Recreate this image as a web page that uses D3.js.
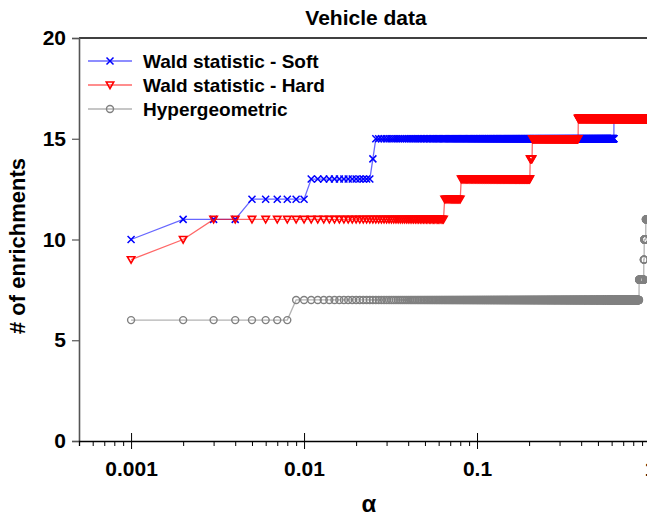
<!DOCTYPE html>
<html><head><meta charset="utf-8">
<script src="https://cdn.jsdelivr.net/npm/d3@7"></script>
<style>body{margin:0;background:#fff}svg{display:block}text{font-family:"Liberation Sans",Arial,sans-serif;font-weight:bold}</style>
</head><body><svg id="c" width="647" height="517"></svg>
<script>
const alphaFirst = 0.001, alphaLast = 1.0, alphaStep = 0.001;
const softRunStart  = [0.001, 0.002, 0.005, 0.011, 0.025, 0.026, 0.619];
const softRunValue  = [10, 11, 12, 13, 14, 15, 16];
const hardRunStart  = [0.001, 0.002, 0.003, 0.065, 0.081, 0.203, 0.209, 0.385];
const hardRunValue  = [9, 10, 11, 12, 13, 14, 15, 16];
const hyperRunStart = [0.001, 0.009, 0.865, 0.921, 0.926, 0.946];
const hyperRunValue = [6, 7, 8, 9, 10, 11];
const seriesNames = ["Wald statistic - Soft", "Wald statistic - Hard", "Hypergeometric"];
const xTickValues = [0.001, 0.01, 0.1, 1];
const xTickLabels = ["0.001", "0.01", "0.1", "1"];
const yTickValues = [0, 5, 10, 15, 20];

function expand(starts, values){
  const pts = [];
  const n = Math.round((alphaLast - alphaFirst)/alphaStep);
  for(let k=0;k<=n;k++){
    const a = +(alphaFirst + k*alphaStep).toFixed(3);
    let v = values[0];
    for(let i=0;i<starts.length;i++){ if(a >= starts[i]-1e-9) v = values[i]; }
    pts.push([a, v]);
  }
  return pts;
}
const soft = expand(softRunStart, softRunValue);
const hard = expand(hardRunStart, hardRunValue);
const hyper = expand(hyperRunStart, hyperRunValue);

const svg = d3.select("#c");
const L = 79, R = 650, T = 38, B = 441;
const x = d3.scaleLog().domain([0.0005, 1]).range([L, R]);
const y = d3.scaleLinear().domain([0, 20]).range([B, T]);

// title
svg.append("text").attr("x", 366).attr("y", 25).attr("text-anchor","middle").attr("font-size",21).text("Vehicle data");

// top border
svg.append("line").attr("x1",L).attr("x2",R).attr("y1",T).attr("y2",T).attr("stroke","#000").attr("stroke-width",1.3);

// y axis
const gy = svg.append("g").attr("transform",`translate(${L},0)`)
  .call(d3.axisLeft(y).tickValues(yTickValues).tickSize(7).tickPadding(6).tickFormat(d3.format("d")));
gy.select(".domain").attr("stroke","#555").attr("stroke-width",1.6);
gy.selectAll(".tick line").attr("stroke","#555").attr("stroke-width",1.2);
gy.selectAll(".tick text").attr("font-size",21).attr("font-family","Liberation Sans, Arial, sans-serif").attr("fill","#000").attr("font-weight","bold");

// x axis
const minor = [];
[0.0001,0.001,0.01,0.1].forEach(b=>{for(let m=2;m<=9;m++){const v=b*m; if(v>=0.0005 && v<1 && xTickValues.indexOf(+v.toFixed(6))<0) minor.push(v);}});
const gx = svg.append("g").attr("transform",`translate(0,${B})`);
gx.call(d3.axisBottom(x).tickValues(minor).tickSize(5).tickFormat(""));
gx.select(".domain").attr("stroke","#000").attr("stroke-width",1.3);
gx.selectAll(".tick line").attr("stroke","#000");
const gx2 = svg.append("g").attr("transform",`translate(0,${B})`)
  .call(d3.axisBottom(x).tickValues(xTickValues).tickSize(8).tickPadding(12).tickFormat((d,i)=>xTickLabels[i]));
gx2.select(".domain").remove();
gx2.selectAll(".tick line").attr("y1",-8).attr("stroke","#000");
gx2.selectAll(".tick text").attr("font-size",21).attr("font-family","Liberation Sans, Arial, sans-serif").attr("fill","#000").attr("font-weight","bold");

// axis titles
svg.append("text").attr("x",369).attr("y",512).attr("text-anchor","middle").attr("font-size",24).text("α");
svg.append("text").attr("transform","translate(25,246) rotate(-90)").attr("text-anchor","middle").attr("font-size",22).text("# of enrichments");

// markers
const crossPath = s => `M${-s},${-s}L${s},${s}M${-s},${s}L${s},${-s}`;
const triPath = s => `M${-s},${-s*0.8}L${s},${-s*0.8}L0,${s*0.95}Z`;
const styles = [
  {data: soft, color:"#0000ff", line:"#0000ff", marker:"x"},
  {data: hard, color:"#ff0000", line:"#ff0000", marker:"tri"},
  {data: hyper, color:"#808080", line:"#808080", marker:"o"}
];
const plot = svg.append("g");
const line = d3.line().x(d=>x(d[0])).y(d=>y(d[1]));
function drawMarker(g, st){
  if(st.marker==="x") g.append("path").attr("d",crossPath(3.5)).attr("stroke",st.color).attr("stroke-width",1.5).attr("fill","none");
  else if(st.marker==="tri") g.append("path").attr("d",triPath(3.7)).attr("stroke",st.color).attr("stroke-width",1.6).attr("fill","none");
  else g.append("circle").attr("r",3.5).attr("stroke",st.color).attr("stroke-width",1.4).attr("fill","none");
}
styles.forEach(st=>{
  plot.append("path").datum(st.data).attr("d",line).attr("fill","none").attr("stroke",st.line).attr("stroke-opacity",0.6).attr("stroke-width",1.3);
  st.data.forEach(d=>{
    const g = plot.append("g").attr("transform",`translate(${x(d[0])},${y(d[1])})`);
    drawMarker(g, st);
  });
});

// legend
const legY = [61, 85, 109];
styles.forEach((st,i)=>{
  svg.append("line").attr("x1",88).attr("x2",132).attr("y1",legY[i]).attr("y2",legY[i]).attr("stroke",st.line).attr("stroke-opacity",0.6).attr("stroke-width",1.3);
  drawMarker(svg.append("g").attr("transform",`translate(110,${legY[i]})`), st);
  svg.append("text").attr("x",143).attr("y",legY[i]+7).attr("font-size",19).text(seriesNames[i]);
});
</script></body></html>
